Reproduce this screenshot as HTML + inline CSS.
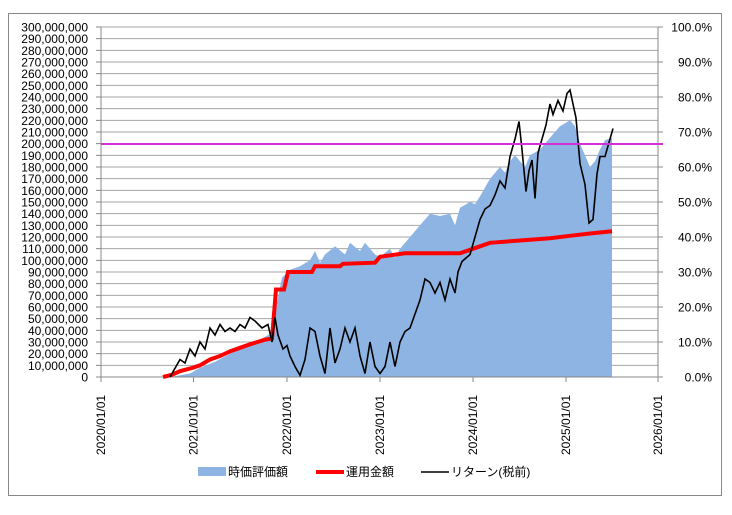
<!DOCTYPE html><html><head><meta charset="utf-8"><style>body{margin:0;background:#fff}svg text{font-family:"Liberation Sans","Noto Sans CJK JP",sans-serif;font-size:12px;fill:#000}</style></head><body>
<svg width="732" height="510" xmlns="http://www.w3.org/2000/svg">
<rect x="8.5" y="13.5" width="713" height="482" fill="#fff" stroke="#888"/>
<path d="M101 365.33H658M101 353.67H658M101 342H658M101 330.33H658M101 318.67H658M101 307H658M101 295.33H658M101 283.67H658M101 272H658M101 260.33H658M101 248.67H658M101 237H658M101 225.33H658M101 213.67H658M101 202H658M101 190.33H658M101 178.67H658M101 167H658M101 155.33H658M101 143.67H658M101 132H658M101 120.33H658M101 108.67H658M101 97H658M101 85.33H658M101 73.67H658M101 62H658M101 50.33H658M101 38.67H658M101 27H658" stroke="#a6a6a6" fill="none"/>
<path d="M96 377H101M96 365.33H101M96 353.67H101M96 342H101M96 330.33H101M96 318.67H101M96 307H101M96 295.33H101M96 283.67H101M96 272H101M96 260.33H101M96 248.67H101M96 237H101M96 225.33H101M96 213.67H101M96 202H101M96 190.33H101M96 178.67H101M96 167H101M96 155.33H101M96 143.67H101M96 132H101M96 120.33H101M96 108.67H101M96 97H101M96 85.33H101M96 73.67H101M96 62H101M96 50.33H101M96 38.67H101M96 27H101M658 377H663M658 342H663M658 307H663M658 272H663M658 237H663M658 202H663M658 167H663M658 132H663M658 97H663M658 62H663M658 27H663M101 377V382M193.5 377V382M287 377V382M380 377V382M473 377V382M566 377V382M658 377V382" stroke="#888" fill="none"/>
<g text-anchor="end">
<text x="88" y="381.5">0</text>
<text x="88" y="369.8">10,000,000</text>
<text x="88" y="358.2">20,000,000</text>
<text x="88" y="346.5">30,000,000</text>
<text x="88" y="334.8">40,000,000</text>
<text x="88" y="323.2">50,000,000</text>
<text x="88" y="311.5">60,000,000</text>
<text x="88" y="299.8">70,000,000</text>
<text x="88" y="288.2">80,000,000</text>
<text x="88" y="276.5">90,000,000</text>
<text x="88" y="264.8">100,000,000</text>
<text x="88" y="253.2">110,000,000</text>
<text x="88" y="241.5">120,000,000</text>
<text x="88" y="229.8">130,000,000</text>
<text x="88" y="218.2">140,000,000</text>
<text x="88" y="206.5">150,000,000</text>
<text x="88" y="194.8">160,000,000</text>
<text x="88" y="183.2">170,000,000</text>
<text x="88" y="171.5">180,000,000</text>
<text x="88" y="159.8">190,000,000</text>
<text x="88" y="148.2">200,000,000</text>
<text x="88" y="136.5">210,000,000</text>
<text x="88" y="124.8">220,000,000</text>
<text x="88" y="113.2">230,000,000</text>
<text x="88" y="101.5">240,000,000</text>
<text x="88" y="89.8">250,000,000</text>
<text x="88" y="78.2">260,000,000</text>
<text x="88" y="66.5">270,000,000</text>
<text x="88" y="54.8">280,000,000</text>
<text x="88" y="43.2">290,000,000</text>
<text x="88" y="31.5">300,000,000</text>
<text x="712" y="381.5">0.0%</text>
<text x="712" y="346.5">10.0%</text>
<text x="712" y="311.5">20.0%</text>
<text x="712" y="276.5">30.0%</text>
<text x="712" y="241.5">40.0%</text>
<text x="712" y="206.5">50.0%</text>
<text x="712" y="171.5">60.0%</text>
<text x="712" y="136.5">70.0%</text>
<text x="712" y="101.5">80.0%</text>
<text x="712" y="66.5">90.0%</text>
<text x="712" y="31.5">100.0%</text>
</g>
<text transform="translate(105,455) rotate(-90)">2020/01/01</text>
<text transform="translate(197.5,455) rotate(-90)">2021/01/01</text>
<text transform="translate(291,455) rotate(-90)">2022/01/01</text>
<text transform="translate(384,455) rotate(-90)">2023/01/01</text>
<text transform="translate(477,455) rotate(-90)">2024/01/01</text>
<text transform="translate(570,455) rotate(-90)">2025/01/01</text>
<text transform="translate(662,455) rotate(-90)">2026/01/01</text>
<polygon fill="#8db4e2" points="170,377 190,373.5 200,367.7 215,361.8 230,353.7 245,345.5 262,338.5 272,332.7 276,307 282,277.8 290,269.7 300,266.2 310,260.3 315,251 320,262.7 325,254.5 335,246.3 345,254.5 350,242.8 360,251 365,242.8 375,254.5 380,256.8 390,248.7 395,258 400,248.7 410,237 420,225.3 430,213.7 440,216 450,213.7 455,225.3 460,207.8 470,202 475,204.3 480,196.2 490,178.7 500,167 505,172.8 510,161.2 515,155.3 520,161.2 525,167 530,155.3 540,149.5 550,137.8 560,126.2 570,120.3 575,126.2 580,143.7 585,155.3 590,167 595,161.2 600,149.5 605,140.2 612,137.8 612,377"/>
<path d="M101 377H658M101 27V377M658 27V377" stroke="#888" fill="none"/>
<polyline fill="none" stroke="#f00" stroke-width="4" points="163,377 172,374.7 180,371.2 193,367.7 200,365.3 210,359.5 220,356 230,351.3 240,347.8 250,344.3 265,339.7 272,338.5 276,289.5 284,289.5 288,272 312,272 315,266.2 340,266.2 343,263.8 375,262.7 380,256.8 405,253.3 460,253.3 470,249.8 480,246.3 490,242.8 520,240.5 550,238.2 570,235.8 590,233.5 612,231.2"/>
<polyline fill="none" stroke="#000" stroke-width="1.6" points="170,377 180,359.5 185,363 190,349 195,356 200,342 205,349 210,328 215,335 220,324.5 225,331.5 230,328 235,331.5 240,324.5 245,328 250,317.5 255,321 262,328 268,324.5 272,342 275,317.5 278,335 283,349 287,345.5 290,356 295,366.5 300,375.3 305,359.5 310,328 315,331.5 320,356 325,373.5 330,328 335,363 340,349 345,328 350,342 355,328 360,356 365,373.5 370,342 375,366.5 380,373.5 385,366.5 390,342 395,366.5 400,342 405,331.5 410,328 415,314 420,300 425,279 430,282.5 435,293 440,282.5 445,300 450,279 455,293 458,272 462,261.5 470,254.5 475,237 480,219.5 485,209 490,205.5 495,195 500,181 505,188 510,156.5 515,139 519,121.5 522,149.5 526,191.5 529,170.5 532,160 535,198.5 538,153 542,139 546,125 550,104 553,114.5 558,100.5 563,111 567,93.5 570,90 573,104 576,118 580,163.5 585,184.5 589,223 593,219.5 597,174 600,156.5 605,156.5 610,139 613,128.5"/>
<line x1="101" x2="663" y1="144" y2="144" stroke="#d42fd4" stroke-width="2"/>
<rect x="198" y="467" width="28" height="9" fill="#8db4e2"/><text x="228" y="476">時価評価額</text>
<rect x="316" y="470" width="28" height="4" fill="#f00"/><text x="346" y="476">運用金額</text>
<line x1="421" x2="449" y1="472" y2="472" stroke="#000" stroke-width="1.6"/><text x="451" y="476">リターン(税前)</text>
</svg></body></html>
